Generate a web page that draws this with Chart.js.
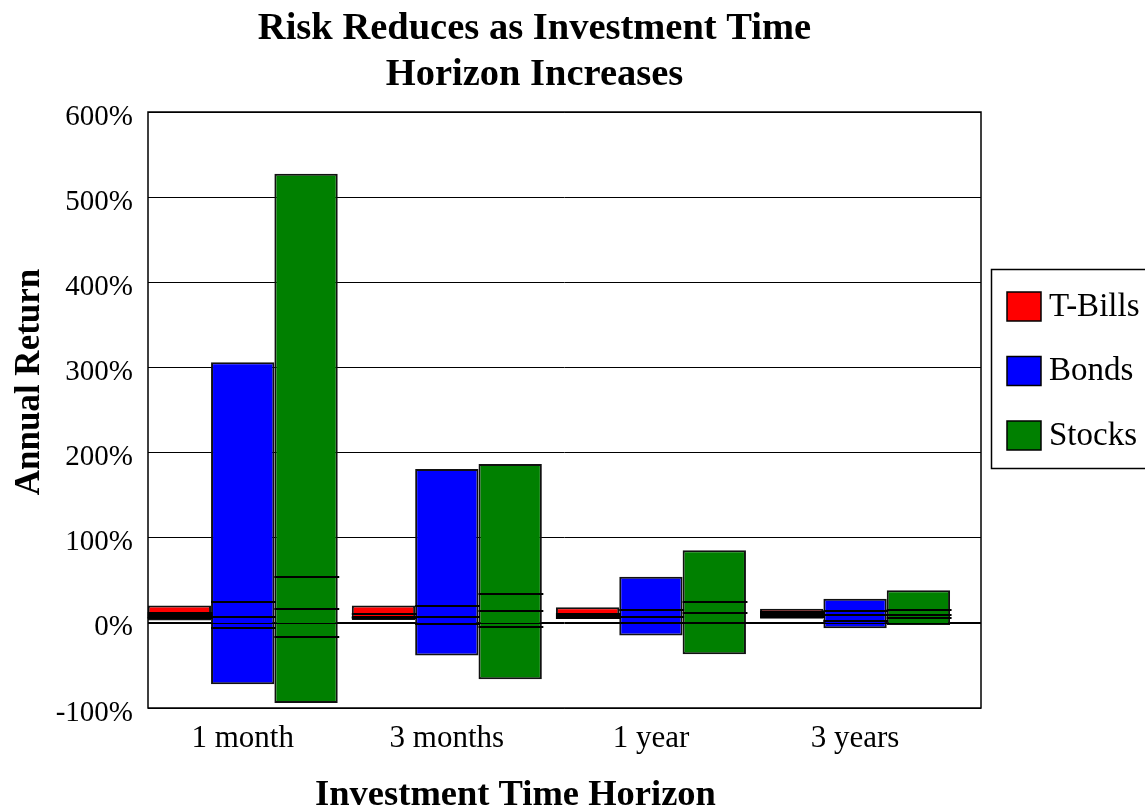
<!DOCTYPE html>
<html>
<head>
<meta charset="utf-8">
<script src="https://cdn.jsdelivr.net/npm/chart.js@4/dist/chart.umd.min.js"></script>
<style>
  html, body { margin: 0; padding: 0; background: #ffffff; }
  #wrap { width: 1145px; height: 809px; }
</style>
</head>
<body>
<div id="wrap"><canvas id="chart" width="1145" height="809"></canvas></div>
<script>
// Investment horizons along the x axis
const CATEGORIES = ['1 month', '3 months', '1 year', '3 years'];
const SERIES_NAMES = ['T-Bills', 'Bonds', 'Stocks'];

// Annual return range [lowest, highest] per horizon, in percent
const TBILL_RANGE = [[2.7, 20.3], [3.5, 20.3], [4.7, 18.4], [4.7, 16.5]];
const BOND_RANGE  = [[-72, 306], [-38.4, 180.6], [-14.9, 54.1], [-6.2, 28.2]];
const STOCK_RANGE = [[-94, 527.6], [-66.2, 186.5], [-36.8, 85.4], [-2.4, 38.4]];

// Marker levels drawn across each range bar, in percent
const TBILL_MARKS = [[11.4, 9.4, 7.4, 5.5], [10.2, 7.4, 5.2], [10.6, 8.2, 6.2], [12.6, 10.6, 8.6, 6.7]];
const BOND_MARKS  = [[24.3, 7.4, -6.2], [20.3, 7.4, -0.8], [15.6, 7.4, 0.4], [14.5, 9.4, 2.7]];
const STOCK_MARKS = [[53.7, 16.5, -16.1], [33.7, 14.1, -4.7], [24.3, 11.4, 0.4], [14.9, 9.4, 5.5]];

// Value axis ticks
const Y_TICKS = [-100, 0, 100, 200, 300, 400, 500, 600];

const SERIF = '"Liberation Serif", "Times New Roman", Times, serif';

function toPoints(ranges) {
  return ranges.map((r, i) => ({ x: i, y: r }));
}

const datasets = [
  { label: SERIES_NAMES[0], data: toPoints(TBILL_RANGE), marks: TBILL_MARKS, backgroundColor: '#ff0000' },
  { label: SERIES_NAMES[1], data: toPoints(BOND_RANGE),  marks: BOND_MARKS,  backgroundColor: '#0000ff' },
  { label: SERIES_NAMES[2], data: toPoints(STOCK_RANGE), marks: STOCK_MARKS, backgroundColor: '#008000' }
].map(ds => Object.assign(ds, { borderColor: '#111111', borderWidth: 2, borderSkipped: false }));

// Marker lines across bars, the zero line, the frame, titles and the boxed legend
const decorations = {
  id: 'decorations',
  afterDatasetsDraw(chart) {
    const { ctx, chartArea: a, scales: { y } } = chart;
    ctx.save();
    ctx.strokeStyle = '#000000';
    ctx.lineWidth = 1.8;
    chart.data.datasets.forEach((ds, di) => {
      const meta = chart.getDatasetMeta(di);
      meta.data.forEach((bar, i) => {
        const { x, width } = bar.getProps(['x', 'width'], true);
        ds.marks[i].forEach(v => {
          const py = Math.round(y.getPixelForValue(v));
          ctx.beginPath();
          ctx.moveTo(x - width / 2, py);
          ctx.lineTo(x + width / 2 + 1.5, py);
          ctx.stroke();
        });
      });
    });
    // zero line over the bars
    const z = Math.round(y.getPixelForValue(0)) + 0.5;
    ctx.lineWidth = 1;
    ctx.beginPath();
    ctx.moveTo(a.left, z);
    ctx.lineTo(a.right, z);
    ctx.stroke();
    // plot frame
    ctx.lineWidth = 1.5;
    ctx.strokeRect(a.left, a.top, a.right - a.left, a.bottom - a.top);
    ctx.restore();
  },
  afterDraw(chart) {
    const { ctx } = chart;
    ctx.save();
    ctx.fillStyle = '#000000';
    ctx.textAlign = 'center';
    ctx.textBaseline = 'alphabetic';
    // chart title
    ctx.font = 'bold 38.5px ' + SERIF;
    ctx.fillText('Risk Reduces as Investment Time', 534.5, 39);
    ctx.fillText('Horizon Increases', 534.5, 85);
    // x axis title
    ctx.font = 'bold 36.5px ' + SERIF;
    ctx.fillText('Investment Time Horizon', 515.5, 805);
    // y axis title
    ctx.save();
    ctx.translate(39, 382);
    ctx.rotate(-Math.PI / 2);
    ctx.font = 'bold 35px ' + SERIF;
    ctx.fillText('Annual Return', 0, 0);
    ctx.restore();

    // legend
    ctx.lineWidth = 1.5;
    ctx.strokeStyle = '#000000';
    ctx.strokeRect(991.5, 269.5, 170, 199);
    ctx.font = '33px ' + SERIF;
    ctx.textAlign = 'left';
    ctx.textBaseline = 'middle';
    chart.data.datasets.forEach((ds, i) => {
      const top = 292 + i * 64.5;
      ctx.fillStyle = ds.backgroundColor;
      ctx.fillRect(1007, top, 34, 29);
      ctx.strokeRect(1007, top, 34, 29);
      ctx.fillStyle = '#000000';
      ctx.fillText(ds.label, 1049, top + 15);
    });
    ctx.restore();
  }
};

new Chart(document.getElementById('chart'), {
  type: 'bar',
  data: { datasets },
  plugins: [decorations],
  options: {
    responsive: false,
    animation: false,
    events: [],
    layout: { padding: { left: 0, right: 164, top: 112, bottom: 0 } },
    datasets: { bar: { categoryPercentage: 0.931, barPercentage: 1 } },
    plugins: {
      legend: { display: false },
      title: { display: false },
      tooltip: { enabled: false }
    },
    scales: {
      x: {
        type: 'linear',
        min: -0.464,
        max: 3.617,
        offset: false,
        grid: { display: false },
        border: { display: false },
        afterBuildTicks: s => { s.ticks = CATEGORIES.map((_, i) => ({ value: i })); },
        afterFit: s => { s.height = 101; },
        ticks: {
          autoSkip: false,
          maxRotation: 0,
          padding: 4,
          color: '#000000',
          font: { family: SERIF, size: 31 },
          callback: v => CATEGORIES[v]
        }
      },
      y: {
        min: -100,
        max: 600,
        afterBuildTicks: s => { s.ticks = Y_TICKS.map(v => ({ value: v })); },
        afterFit: s => { s.width = 148; },
        grid: { color: '#000000', lineWidth: 1, drawTicks: false },
        border: { display: false },
        ticks: {
          padding: 15,
          labelOffset: 5,
          color: '#000000',
          font: { family: SERIF, size: 29 },
          callback: v => v + '%'
        }
      }
    }
  }
});
</script>
</body>
</html>
